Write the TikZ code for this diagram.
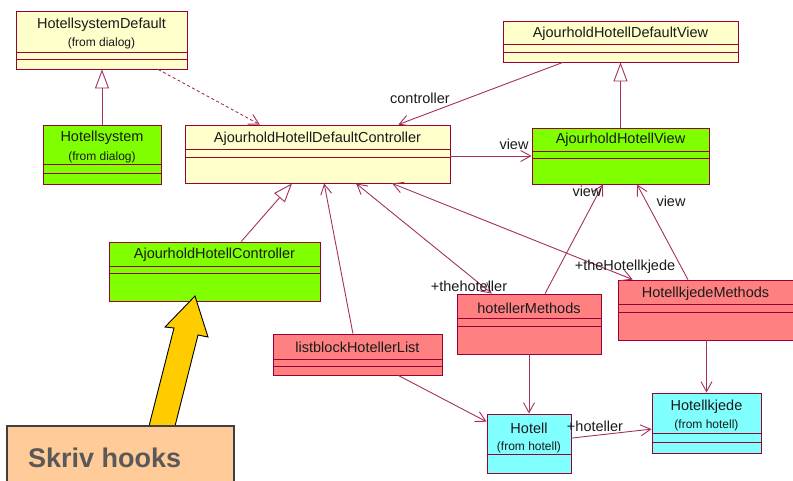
\documentclass[tikz,border=0pt]{standalone}
\usepackage{fontspec}
\setmainfont{Liberation Sans}
\usetikzlibrary{arrows.meta,fit,calc}

\definecolor{paleyellow}{HTML}{FFFFCC}
\definecolor{limegreen}{HTML}{80FF00}
\definecolor{salmon}{HTML}{FF8080}
\definecolor{lightcyan}{HTML}{80FFFF}
\definecolor{borderc}{HTML}{990033}
\definecolor{linkc}{HTML}{A3305E}
\definecolor{textc}{HTML}{1A1A1A}
\definecolor{peach}{HTML}{FFCC99}
\definecolor{notegray}{HTML}{595959}
\definecolor{arrowyellow}{HTML}{FFCC00}

% class box with its two compartment separators
\newcommand\umlclass[8]{%
  \node[classbox, fill=#2, fit={(#3,#4) (#5,#6)}] (#1) {};
  \draw[sepline] (#3,#7) -- (#5,#7);
  \draw[sepline] (#3,#8) -- (#5,#8);
}

\begin{document}
\begin{tikzpicture}[x=1pt, y=-1pt,
  classbox/.style={draw=borderc, line width=0.9pt, inner sep=0pt, rectangle},
  sepline/.style={draw=borderc, line width=0.9pt},
  cname/.style={font=\fontsize{14.5}{16}\selectfont, text=textc, inner sep=0pt},
  cfrom/.style={font=\fontsize{12}{14}\selectfont, text=textc, inner sep=0pt},
  rolelabel/.style={font=\fontsize{14.5}{16}\selectfont, text=textc, inner sep=0pt},
  link/.style={draw=linkc, line width=0.9pt},
  assoc/.style={link, -{Straight Barb[length=10pt,width=11pt]}},
  assocboth/.style={link, {Straight Barb[length=10pt,width=11pt]}-{Straight Barb[length=10pt,width=11pt]}},
  depend/.style={link, dash pattern=on 3pt off 2.5pt, -{Straight Barb[length=10pt,width=11pt]}},
  inherit/.style={link, -{Triangle[length=19pt,width=14pt,fill=white]}},
]
\useasboundingbox (0,0) rectangle (793,481);
\clip (0,0) rectangle (793,481);

% ---------- classes ----------
\umlclass{hsd}{paleyellow}{16}{11}{187}{69}{52}{59}
\node[cname] (hsd-n) at (101.5,25) {HotellsystemDefault};
\node[cfrom] (hsd-f) at (101.5,43) {(from dialog)};

\umlclass{hsys}{limegreen}{43}{125}{161}{184}{164}{173}
\node[cname] (hsys-n) at (102,138) {Hotellsystem};
\node[cfrom] (hsys-f) at (102,157) {(from dialog)};

\umlclass{dctrl}{paleyellow}{185}{125}{450}{183}{149}{157}
\node[cname] (dctrl-n) at (317.5,139) {AjourholdHotellDefaultController};

\umlclass{dview}{paleyellow}{503}{21}{738}{62}{44}{52}
\node[cname] (dview-n) at (620.5,34) {AjourholdHotellDefaultView};

\umlclass{view}{limegreen}{532}{128}{709}{184}{151}{158}
\node[cname] (view-n) at (620.5,140) {AjourholdHotellView};

\umlclass{ctrl}{limegreen}{109}{242}{320}{301}{266}{273}
\node[cname] (ctrl-n) at (214.5,255) {AjourholdHotellController};

\umlclass{lbl}{salmon}{273}{334}{442}{375}{359}{366}
\node[cname] (lbl-n) at (357.5,347) {listblockHotellerList};

\umlclass{hm}{salmon}{457}{294}{601}{354}{318}{326}
\node[cname] (hm-n) at (529,308) {hotellerMethods};

\umlclass{hkm}{salmon}{618}{280}{793}{340}{304}{312}
\node[cname] (hkm-n) at (705.5,294) {HotellkjedeMethods};

\umlclass{hot}{lightcyan}{487}{414}{571}{473}{454}{454}
\node[cname] (hot-n) at (529,428) {Hotell};
\node[cfrom] (hot-f) at (529,447) {(from hotell)};

\umlclass{hk}{lightcyan}{652}{393}{761}{453}{433}{442}
\node[cname] (hk-n) at (706.5,407) {Hotellkjede};
\node[cfrom] (hk-f) at (706.5,425) {(from hotell)};

% ---------- generalisations ----------
\draw[inherit] (hsys.north) -- (hsys.north |- hsd.south);
\draw[inherit] (view.north) -- (view.north |- dview.south);
\draw[inherit] ($(ctrl.north west)!0.626!(ctrl.north east)$) -- ($(dctrl.south west)!0.404!(dctrl.south east)$);

% ---------- dependency ----------
\draw[depend] ($(hsd.south west)!0.83!(hsd.south east)$) -- ($(dctrl.north west)!0.283!(dctrl.north east)$);

% ---------- associations ----------
\draw[assoc] ($(dview.south west)!0.255!(dview.south east)$) -- ($(dctrl.north west)!0.804!(dctrl.north east)$);
\node[rolelabel] (l-controller) at (420,98) {controller};

\draw[assoc] (dctrl.east |- view.west) -- (view.west);
\node[rolelabel] (l-view1) at (514,144) {view};

\draw[assoc] ($(lbl.north west)!0.473!(lbl.north east)$) -- ($(dctrl.south west)!0.525!(dctrl.south east)$);

\draw[assocboth] ($(dctrl.south west)!0.645!(dctrl.south east)$) -- ($(hm.north west)!0.243!(hm.north east)$);
\node[rolelabel] (l-thehoteller) at (469,286) {+thehoteller};

\draw[assocboth] ($(dctrl.south west)!0.781!(dctrl.south east)$) -- ($(hkm.north west)!0.086!(hkm.north east)$);
\node[rolelabel] (l-thehk) at (625,267) {+theHotellkjede};

\draw[assoc] ($(hm.north west)!0.611!(hm.north east)$) -- ($(view.south west)!0.401!(view.south east)$);
\node[rolelabel] (l-view2) at (587,191) {view};

\draw[assoc] ($(hkm.north west)!0.4!(hkm.north east)$) -- ($(view.south west)!0.593!(view.south east)$);
\node[rolelabel] (l-view3) at (671,201) {view};

\draw[assoc] (hm.south) -- (hot.north);
\draw[assoc] (hk.north |- hkm.south) -- (hk.north);

\draw[assoc] ($(lbl.south west)!0.74!(lbl.south east)$) -- ($(hot.north west)!0.136!(hot.south west)$);

\draw[assoc] ($(hot.north east)!0.41!(hot.south east)$) -- ($(hk.north west)!0.6!(hk.south west)$);
\node[rolelabel] (l-hoteller) at (595,426) {+hoteller};

% ---------- note with pointing block arrow ----------
\draw[fill=arrowyellow, draw=black, line width=0.9pt, line join=miter]
  (147.5,432) -- (174,328) -- (165,327) -- (195,296) -- (208,337) -- (198,335) -- (173.5,432) -- cycle;
\node[draw=black!75, line width=1.1pt, fill=peach, inner sep=0pt, fit={(7,426) (234,495)}] (note) {};
\node[anchor=base west, inner sep=0pt, text=notegray, font=\fontsize{27}{30}\selectfont\bfseries] (note-t) at (28,467) {Skriv hooks};

\end{tikzpicture}
\end{document}
